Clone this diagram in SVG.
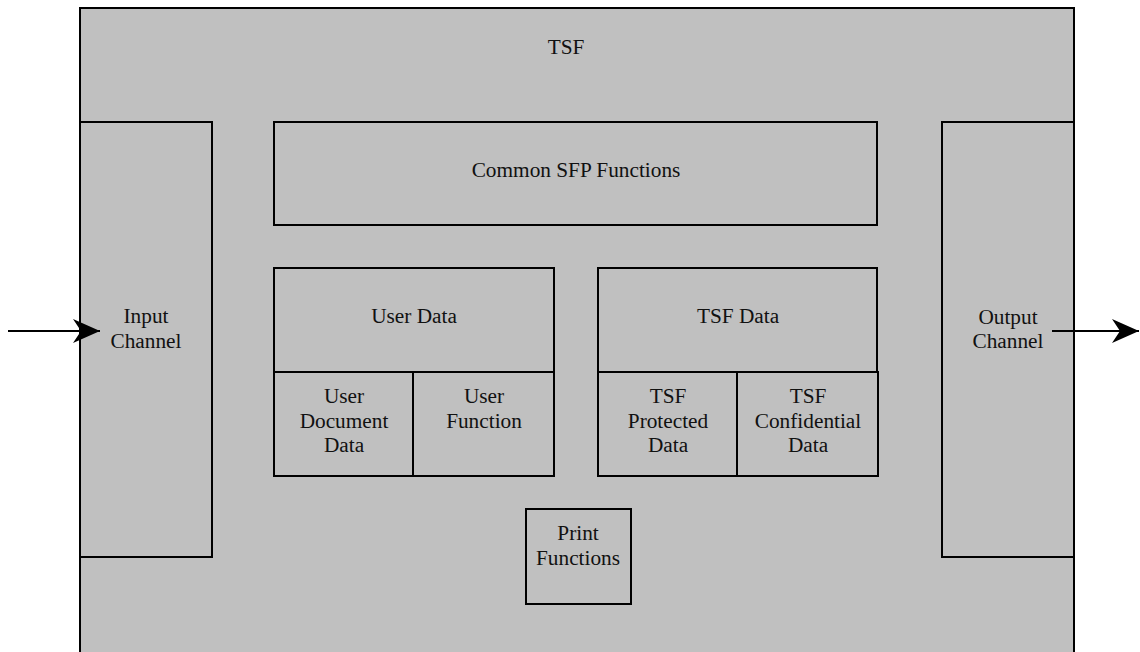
<svg xmlns="http://www.w3.org/2000/svg" width="1140" height="652" viewBox="0 0 1140 652">
<style>
.box{fill:#c0c0c0;stroke:#000;stroke-width:2}
.t{font-family:"Liberation Serif","Times New Roman",serif;font-size:21.3px;fill:#111;text-anchor:middle}
.c{stroke:#000;stroke-width:2;fill:none}
</style>
<defs>
<marker id="ah" viewBox="0 0 27 24" refX="27" refY="12" markerWidth="27" markerHeight="24" markerUnits="userSpaceOnUse" orient="auto">
<path d="M0,0 L27,12 L0,24 L8,12 Z" fill="#000"/>
</marker>
</defs>
<rect width="1140" height="652" fill="#fff"/>
<g id="tsf">
<rect class="box" x="80" y="8" width="994" height="660"/>
<text class="t" x="566" y="54">TSF</text>
</g>
<g id="input-channel">
<rect class="box" x="80" y="122" width="132" height="435"/>
<text class="t" x="146" y="323">Input</text>
<text class="t" x="146" y="348">Channel</text>
</g>
<g id="output-channel">
<rect class="box" x="942" y="122" width="132" height="435"/>
<text class="t" x="1008" y="324">Output</text>
<text class="t" x="1008" y="348">Channel</text>
</g>
<g id="common-sfp">
<rect class="box" x="274" y="122" width="603" height="103"/>
<text class="t" x="576" y="177">Common SFP Functions</text>
</g>
<g id="user-data">
<rect class="box" x="274" y="268" width="280" height="104"/>
<text class="t" x="414" y="323">User Data</text>
</g>
<g id="user-document-data">
<rect class="box" x="274" y="372" width="139" height="104"/>
<text class="t" x="344" y="403">User</text>
<text class="t" x="344" y="428">Document</text>
<text class="t" x="344" y="452">Data</text>
</g>
<g id="user-function">
<rect class="box" x="413" y="372" width="141" height="104"/>
<text class="t" x="484" y="403">User</text>
<text class="t" x="484" y="428">Function</text>
</g>
<g id="tsf-data">
<rect class="box" x="598" y="268" width="279" height="104"/>
<text class="t" x="738" y="323">TSF Data</text>
</g>
<g id="tsf-protected-data">
<rect class="box" x="598" y="372" width="139" height="104"/>
<text class="t" x="668" y="403">TSF</text>
<text class="t" x="668" y="428">Protected</text>
<text class="t" x="668" y="452">Data</text>
</g>
<g id="tsf-confidential-data">
<rect class="box" x="737" y="372" width="141" height="104"/>
<text class="t" x="808" y="403">TSF</text>
<text class="t" x="808" y="428">Confidential</text>
<text class="t" x="808" y="452">Data</text>
</g>
<g id="print-functions">
<rect class="box" x="526" y="509" width="105" height="95"/>
<text class="t" x="578" y="540">Print</text>
<text class="t" x="578" y="565">Functions</text>
</g>
<g id="connectors">
<line class="c" x1="8" y1="331" x2="100" y2="331" marker-end="url(#ah)"/>
<line class="c" x1="1052" y1="331" x2="1139" y2="331" marker-end="url(#ah)"/>
</g>
</svg>
